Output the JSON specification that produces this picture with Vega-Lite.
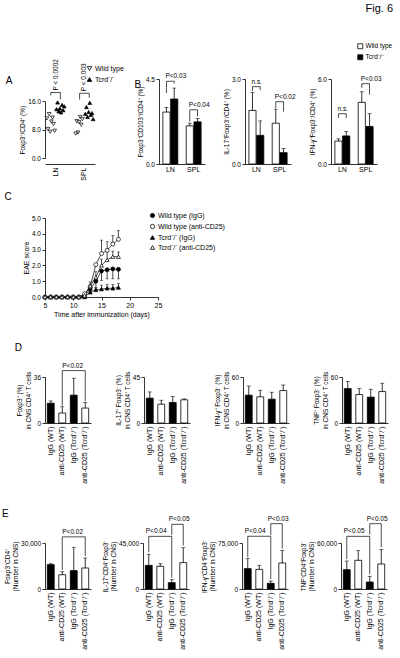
{
"$schema":"https://vega.github.io/schema/vega-lite/v6.json",
"padding":{"left":2,"top":3,"right":0,"bottom":0},
"background":"white",
"title":{"text":"Fig. 6","anchor":"end","fontSize":11,"offset":29},
"config":{
 "font":"Liberation Sans",
 "view":{"stroke":null},
 "axis":{"grid":false,"domainColor":"black","domainWidth":0.8,"tickColor":"black","tickWidth":0.8,"tickSize":3,"labelColor":"black","labelFontSize":6.5,"titleFontSize":6.5,"titleFontWeight":"normal","titleColor":"black","labelPadding":1.5,"titlePadding":2,"labelFlush":false,"labelOverlap":false},
 "title":{"fontWeight":"normal","fontSize":10,"anchor":"start","color":"black"},
 "legend":{"labelFontSize":6.5,"labelColor":"black","symbolStrokeColor":"black","symbolStrokeWidth":0.8,"rowPadding":2,"padding":0,"labelOffset":2,"symbolSize":20}
},
"datasets":{
 "ptA":[
  {"col":"LN WT","geno":"Wild type","rep":"3","v":12.4},{"col":"LN WT","geno":"Wild type","rep":"6","v":11.4},{"col":"LN WT","geno":"Wild type","rep":"1","v":11.2},{"col":"LN WT","geno":"Wild type","rep":"5","v":10.3},{"col":"LN WT","geno":"Wild type","rep":"7","v":9.6},{"col":"LN WT","geno":"Wild type","rep":"2","v":8.2},{"col":"LN WT","geno":"Wild type","rep":"8","v":7.7},{"col":"LN WT","geno":"Wild type","rep":"4","v":7.4},
  {"col":"LN KO","geno":"Tcrd⁻/⁻","rep":"2","v":15.7},{"col":"LN KO","geno":"Tcrd⁻/⁻","rep":"6","v":15.0},{"col":"LN KO","geno":"Tcrd⁻/⁻","rep":"8","v":14.6},{"col":"LN KO","geno":"Tcrd⁻/⁻","rep":"4","v":14.0},{"col":"LN KO","geno":"Tcrd⁻/⁻","rep":"1","v":13.8},{"col":"LN KO","geno":"Tcrd⁻/⁻","rep":"7","v":13.5},{"col":"LN KO","geno":"Tcrd⁻/⁻","rep":"3","v":13.2},{"col":"LN KO","geno":"Tcrd⁻/⁻","rep":"5","v":12.9},
  {"col":"SPL WT","geno":"Wild type","rep":"5","v":11.6},{"col":"SPL WT","geno":"Wild type","rep":"7","v":11.0},{"col":"SPL WT","geno":"Wild type","rep":"2","v":10.4},{"col":"SPL WT","geno":"Wild type","rep":"4","v":10.1},{"col":"SPL WT","geno":"Wild type","rep":"6","v":9.4},{"col":"SPL WT","geno":"Wild type","rep":"3","v":7.2},{"col":"SPL WT","geno":"Wild type","rep":"1","v":6.9},
  {"col":"SPL KO","geno":"Tcrd⁻/⁻","rep":"5","v":15.6},{"col":"SPL KO","geno":"Tcrd⁻/⁻","rep":"2","v":14.4},{"col":"SPL KO","geno":"Tcrd⁻/⁻","rep":"4","v":13.0},{"col":"SPL KO","geno":"Tcrd⁻/⁻","rep":"7","v":12.7},{"col":"SPL KO","geno":"Tcrd⁻/⁻","rep":"1","v":12.5},{"col":"SPL KO","geno":"Tcrd⁻/⁻","rep":"6","v":12.2},{"col":"SPL KO","geno":"Tcrd⁻/⁻","rep":"3","v":11.6},{"col":"SPL KO","geno":"Tcrd⁻/⁻","rep":"8","v":11.0}
 ],
 "brA":[{"a":"LN WT","b":"LN KO","lv":18.5,"la":17.7,"lb":16.6,"label":"P < 0.0002"},{"a":"SPL WT","b":"SPL KO","lv":18.3,"la":16.5,"lb":17.0,"label":"P < 0.003"}],
 "bB1":[{"col":"LN WT","geno":"Wild type","m":2.75,"hi":3.0},{"col":"LN KO","geno":"Tcrd⁻/⁻","m":3.44,"hi":4.02},{"col":"SPL WT","geno":"Wild type","m":2.02,"hi":2.16},{"col":"SPL KO","geno":"Tcrd⁻/⁻","m":2.23,"hi":2.41}],
 "bB2":[{"col":"LN WT","geno":"Wild type","m":1.89,"hi":2.53},{"col":"LN KO","geno":"Tcrd⁻/⁻","m":1.01,"hi":1.52},{"col":"SPL WT","geno":"Wild type","m":1.44,"hi":1.94},{"col":"SPL KO","geno":"Tcrd⁻/⁻","m":0.40,"hi":0.55}],
 "bB3":[{"col":"LN WT","geno":"Wild type","m":1.62,"hi":1.78},{"col":"LN KO","geno":"Tcrd⁻/⁻","m":1.98,"hi":2.3},{"col":"SPL WT","geno":"Wild type","m":4.35,"hi":5.1},{"col":"SPL KO","geno":"Tcrd⁻/⁻","m":2.65,"hi":3.55}],
 "brB1":[{"a":"LN WT","b":"LN KO","lv":4.38,"la":3.76,"lb":4.26,"label":"P<0.03"},{"a":"SPL WT","b":"SPL KO","lv":2.87,"la":2.25,"lb":2.52,"label":"P<0.04"}],
 "brB2":[{"a":"LN WT","b":"LN KO","lv":2.73,"la":2.58,"lb":2.6,"label":"n.s."},{"a":"SPL WT","b":"SPL KO","lv":2.2,"la":1.98,"lb":1.85,"label":"P<0.02"}],
 "brB3":[{"a":"LN WT","b":"LN KO","lv":3.55,"la":3.25,"lb":3.25,"label":"n.s."},{"a":"SPL WT","b":"SPL KO","lv":5.67,"la":5.37,"lb":4.9,"label":"P<0.03"}],
 "eae":[
  {"s":"Wild type (IgG)","day":5,"m":0},{"s":"Wild type (IgG)","day":6,"m":0},{"s":"Wild type (IgG)","day":7,"m":0},{"s":"Wild type (IgG)","day":8,"m":0},{"s":"Wild type (IgG)","day":9,"m":0},{"s":"Wild type (IgG)","day":10,"m":0},{"s":"Wild type (IgG)","day":11,"m":0},{"s":"Wild type (IgG)","day":12,"m":0.05},{"s":"Wild type (IgG)","day":13,"m":0.5,"eb":0.25},{"s":"Wild type (IgG)","day":14,"m":1.0,"eb":0.5},{"s":"Wild type (IgG)","day":15,"m":1.65,"eb":1.05},{"s":"Wild type (IgG)","day":16,"m":1.72,"eb":1.15},{"s":"Wild type (IgG)","day":17,"m":1.78,"eb":1.15},{"s":"Wild type (IgG)","day":18,"m":1.75,"eb":1.15},
  {"s":"Wild type (anti-CD25)","day":5,"m":0},{"s":"Wild type (anti-CD25)","day":6,"m":0},{"s":"Wild type (anti-CD25)","day":7,"m":0},{"s":"Wild type (anti-CD25)","day":8,"m":0},{"s":"Wild type (anti-CD25)","day":9,"m":0},{"s":"Wild type (anti-CD25)","day":10,"m":0},{"s":"Wild type (anti-CD25)","day":11,"m":0},{"s":"Wild type (anti-CD25)","day":12,"m":0.2},{"s":"Wild type (anti-CD25)","day":13,"m":0.65,"eb":0.95},{"s":"Wild type (anti-CD25)","day":14,"m":2.05},{"s":"Wild type (anti-CD25)","day":15,"m":2.75,"eb":3.6},{"s":"Wild type (anti-CD25)","day":16,"m":2.95,"eb":3.5},{"s":"Wild type (anti-CD25)","day":17,"m":3.35,"eb":3.9},{"s":"Wild type (anti-CD25)","day":18,"m":3.65,"eb":4.2},
  {"s":"Tcrd⁻/⁻ (IgG)","day":5,"m":0},{"s":"Tcrd⁻/⁻ (IgG)","day":6,"m":0},{"s":"Tcrd⁻/⁻ (IgG)","day":7,"m":0},{"s":"Tcrd⁻/⁻ (IgG)","day":8,"m":0},{"s":"Tcrd⁻/⁻ (IgG)","day":9,"m":0},{"s":"Tcrd⁻/⁻ (IgG)","day":10,"m":0},{"s":"Tcrd⁻/⁻ (IgG)","day":11,"m":0},{"s":"Tcrd⁻/⁻ (IgG)","day":12,"m":0},{"s":"Tcrd⁻/⁻ (IgG)","day":13,"m":0.3},{"s":"Tcrd⁻/⁻ (IgG)","day":14,"m":0.45,"eb":0.6},{"s":"Tcrd⁻/⁻ (IgG)","day":15,"m":0.5,"eb":0.75},{"s":"Tcrd⁻/⁻ (IgG)","day":16,"m":0.55,"eb":0.78},{"s":"Tcrd⁻/⁻ (IgG)","day":17,"m":0.55,"eb":0.8},{"s":"Tcrd⁻/⁻ (IgG)","day":18,"m":0.6,"eb":0.85},
  {"s":"Tcrd⁻/⁻ (anti-CD25)","day":5,"m":0},{"s":"Tcrd⁻/⁻ (anti-CD25)","day":6,"m":0},{"s":"Tcrd⁻/⁻ (anti-CD25)","day":7,"m":0},{"s":"Tcrd⁻/⁻ (anti-CD25)","day":8,"m":0},{"s":"Tcrd⁻/⁻ (anti-CD25)","day":9,"m":0},{"s":"Tcrd⁻/⁻ (anti-CD25)","day":10,"m":0},{"s":"Tcrd⁻/⁻ (anti-CD25)","day":11,"m":0},{"s":"Tcrd⁻/⁻ (anti-CD25)","day":12,"m":0.1},{"s":"Tcrd⁻/⁻ (anti-CD25)","day":13,"m":0.7},{"s":"Tcrd⁻/⁻ (anti-CD25)","day":14,"m":1.25,"eb":1.6},{"s":"Tcrd⁻/⁻ (anti-CD25)","day":15,"m":2.0,"eb":2.4},{"s":"Tcrd⁻/⁻ (anti-CD25)","day":16,"m":2.35,"eb":2.85},{"s":"Tcrd⁻/⁻ (anti-CD25)","day":17,"m":2.55,"eb":2.9},{"s":"Tcrd⁻/⁻ (anti-CD25)","day":18,"m":2.55,"eb":2.85}
 ],
 "bD1":[{"grp":"IgG (WT)","kind":"IgG","m":15.5,"hi":17.3},{"grp":"anti-CD25 (WT)","kind":"anti","m":7.8,"hi":12.7},{"grp":"IgG (Tcrd⁻/⁻)","kind":"IgG","m":21.8,"hi":35},{"grp":"anti-CD25 (Tcrd⁻/⁻)","kind":"anti","m":11.7,"hi":16.1}],
 "bD2":[{"grp":"IgG (WT)","kind":"IgG","m":24.3,"hi":30.4},{"grp":"anti-CD25 (WT)","kind":"anti","m":18.4,"hi":22.3},{"grp":"IgG (Tcrd⁻/⁻)","kind":"IgG","m":20.1,"hi":25.9},{"grp":"anti-CD25 (Tcrd⁻/⁻)","kind":"anti","m":22.7,"hi":23.6}],
 "bD3":[{"grp":"IgG (WT)","kind":"IgG","m":36.3,"hi":48.3},{"grp":"anti-CD25 (WT)","kind":"anti","m":34.1,"hi":42.7},{"grp":"IgG (Tcrd⁻/⁻)","kind":"IgG","m":31.1,"hi":40.1},{"grp":"anti-CD25 (Tcrd⁻/⁻)","kind":"anti","m":42.3,"hi":49.6}],
 "bD4":[{"grp":"IgG (WT)","kind":"IgG","m":44.9,"hi":54},{"grp":"anti-CD25 (WT)","kind":"anti","m":37.1,"hi":44.9},{"grp":"IgG (Tcrd⁻/⁻)","kind":"IgG","m":33.7,"hi":44},{"grp":"anti-CD25 (Tcrd⁻/⁻)","kind":"anti","m":41,"hi":51.8}],
 "bE1":[{"grp":"IgG (WT)","kind":"IgG","m":15900,"hi":16500},{"grp":"anti-CD25 (WT)","kind":"anti","m":9300,"hi":11300},{"grp":"IgG (Tcrd⁻/⁻)","kind":"IgG","m":12000,"hi":27200},{"grp":"anti-CD25 (Tcrd⁻/⁻)","kind":"anti","m":13700,"hi":20200}],
 "bE2":[{"grp":"IgG (WT)","kind":"IgG","m":23100,"hi":33900},{"grp":"anti-CD25 (WT)","kind":"anti","m":22200,"hi":24800},{"grp":"IgG (Tcrd⁻/⁻)","kind":"IgG","m":6200,"hi":9100},{"grp":"anti-CD25 (Tcrd⁻/⁻)","kind":"anti","m":25800,"hi":40400}],
 "bE3":[{"grp":"IgG (WT)","kind":"IgG","m":33200,"hi":49500},{"grp":"anti-CD25 (WT)","kind":"anti","m":32000,"hi":38600},{"grp":"IgG (Tcrd⁻/⁻)","kind":"IgG","m":9200,"hi":13000},{"grp":"anti-CD25 (Tcrd⁻/⁻)","kind":"anti","m":42400,"hi":63000}],
 "bE4":[{"grp":"IgG (WT)","kind":"IgG","m":25200,"hi":36500},{"grp":"anti-CD25 (WT)","kind":"anti","m":37400,"hi":50000},{"grp":"IgG (Tcrd⁻/⁻)","kind":"IgG","m":9100,"hi":16500},{"grp":"anti-CD25 (Tcrd⁻/⁻)","kind":"anti","m":32600,"hi":51700}],
 "brD1":[{"a":"anti-CD25 (WT)","b":"anti-CD25 (Tcrd⁻/⁻)","lv":41,"la":13.5,"lb":17,"label":"P<0.02"}],
 "brE1":[{"a":"anti-CD25 (WT)","b":"anti-CD25 (Tcrd⁻/⁻)","lv":34000,"la":12500,"lb":21500,"label":"P<0.02"}],
 "brE2":[{"a":"IgG (WT)","b":"IgG (Tcrd⁻/⁻)","lv":51500,"la":36000,"lb":11000,"label":"P<0.04"},{"a":"IgG (Tcrd⁻/⁻)","b":"anti-CD25 (Tcrd⁻/⁻)","lv":63300,"la":53000,"lb":42500,"label":"P<0.05"}],
 "brE3":[{"a":"IgG (WT)","b":"IgG (Tcrd⁻/⁻)","lv":86000,"la":52000,"lb":16000,"label":"P<0.04"},{"a":"IgG (Tcrd⁻/⁻)","b":"anti-CD25 (Tcrd⁻/⁻)","lv":106500,"la":88000,"lb":66000,"label":"P<0.03"}],
 "brE4":[{"a":"IgG (WT)","b":"IgG (Tcrd⁻/⁻)","lv":68700,"la":39000,"lb":19000,"label":"P<0.05"},{"a":"IgG (Tcrd⁻/⁻)","b":"anti-CD25 (Tcrd⁻/⁻)","lv":85200,"la":71000,"lb":54500,"label":"P<0.05"}]
},
"spacing":24,
"resolve":{"scale":{"x":"independent","y":"independent","fill":"independent","shape":"independent","stroke":"independent"},"legend":{"fill":"independent","shape":"independent","stroke":"independent"}},
"vconcat":[
{"vconcat":[
 {"hconcat":[
  {"width":50,"height":85,
   "title":{"text":"A","offset":-27,"dx":-14},
   "layer":[
    {"data":{"name":"ptA"},"mark":{"type":"point","filled":false,"strokeWidth":0.7,"size":14,"opacity":1},
     "encoding":{
      "x":{"field":"col","type":"nominal","scale":{"type":"band","domain":["LN WT","LN KO","gap","SPL WT","SPL KO"],"paddingInner":0,"paddingOuter":0.1},"axis":{"title":null,"ticks":false,"labelAngle":-90,"labelAlign":"right","labelBaseline":"middle","labelFontSize":7,"labelPadding":3,"labelOffset":4.8,"labelExpr":"datum.value=='LN WT'?'LN':datum.value=='SPL WT'?'SPL':''"}},
      "xOffset":{"field":"rep","type":"nominal","scale":{"type":"band","paddingInner":0,"paddingOuter":0.3}},
      "y":{"field":"v","type":"quantitative","scale":{"domain":[0,16],"range":[79,22.4],"nice":false},"axis":{"values":[0,4,8,12,16],"format":".1f","title":"Foxp3⁺/CD4⁺ (%)"}},
      "shape":{"field":"geno","type":"nominal","scale":{"domain":["Wild type","Tcrd⁻/⁻"],"range":["triangle-down","triangle-up"]},"legend":{"orient":"none","legendX":41,"legendY":-14,"title":null,"labelFontSize":7}},
      "fill":{"field":"geno","type":"nominal","scale":{"domain":["Wild type","Tcrd⁻/⁻"],"range":["white","black"]},"legend":{"orient":"none","legendX":41,"legendY":-14,"title":null,"labelFontSize":7}},
      "stroke":{"field":"geno","type":"nominal","scale":{"domain":["Wild type","Tcrd⁻/⁻"],"range":["black","black"]},"legend":{"orient":"none","legendX":41,"legendY":-14,"title":null,"labelFontSize":7}}
     }},
    {"data":{"name":"brA"},"mark":{"type":"rule","color":"black","strokeWidth":0.7},"encoding":{"x":{"field":"a","type":"nominal","scale":{"type":"band","domain":["LN WT","LN KO","gap","SPL WT","SPL KO"],"paddingInner":0,"paddingOuter":0.1},"bandPosition":0.5},"x2":{"field":"b"},"y":{"field":"lv","type":"quantitative","scale":{"domain":[0,16],"range":[79,22.4],"nice":false}}}},
    {"data":{"name":"brA"},"mark":{"type":"rule","color":"black","strokeWidth":0.7},"encoding":{"x":{"field":"a","type":"nominal","scale":{"type":"band","domain":["LN WT","LN KO","gap","SPL WT","SPL KO"],"paddingInner":0,"paddingOuter":0.1},"bandPosition":0.5},"y":{"field":"la","type":"quantitative","scale":{"domain":[0,16],"range":[79,22.4],"nice":false}},"y2":{"field":"lv"}}},
    {"data":{"name":"brA"},"mark":{"type":"rule","color":"black","strokeWidth":0.7},"encoding":{"x":{"field":"b","type":"nominal","scale":{"type":"band","domain":["LN WT","LN KO","gap","SPL WT","SPL KO"],"paddingInner":0,"paddingOuter":0.1},"bandPosition":0.5},"y":{"field":"lb","type":"quantitative","scale":{"domain":[0,16],"range":[79,22.4],"nice":false}},"y2":{"field":"lv"}}},
    {"data":{"name":"brA"},"mark":{"type":"text","angle":270,"align":"left","baseline":"middle","fontSize":6.5,"dx":2,"dy":4.8},"encoding":{"x":{"field":"a","type":"nominal","scale":{"type":"band","domain":["LN WT","LN KO","gap","SPL WT","SPL KO"],"paddingInner":0,"paddingOuter":0.1},"bandPosition":0.5},"y":{"field":"lv","type":"quantitative","scale":{"domain":[0,16],"range":[79,22.4],"nice":false}},"text":{"field":"label"}}}
   ]},
  {"hconcat":[
  {"width":46,"height":85,
   "title":{"text":"B","offset":-17,"dx":-3},
   "layer":[
    {"data":{"name":"bB1"},"mark":{"type":"bar","stroke":"black","strokeWidth":0.8},"encoding":{"x":{"field":"col","type":"nominal","scale":{"type":"band","domain":["LN WT","LN KO","gap","SPL WT","SPL KO"],"paddingInner":0.08,"paddingOuter":0.5},"axis":{"title":null,"ticks":false,"labelAngle":0,"labelAlign":"center","labelFontSize":7,"labelOffset":3.9,"labelExpr":"datum.value=='LN WT'?'LN':datum.value=='SPL WT'?'SPL':''"}},"y":{"field":"m","type":"quantitative","scale":{"domain":[0,4.5],"nice":false},"axis":{"values":[0,1.5,3,4.5],"format":".1f","title":"Foxp3⁺CD103⁺/CD4⁺ (%)"}},"fill":{"field":"geno","type":"nominal","scale":{"domain":["Wild type","Tcrd⁻/⁻"],"range":["white","black"]},"legend":null}}},
    {"data":{"name":"bB1"},"mark":{"type":"rule","color":"black","strokeWidth":0.8},"encoding":{"x":{"field":"col","type":"nominal","scale":{"type":"band","domain":["LN WT","LN KO","gap","SPL WT","SPL KO"],"paddingInner":0.08,"paddingOuter":0.5},"bandPosition":0.5},"y":{"field":"m","type":"quantitative","scale":{"domain":[0,4.5],"nice":false}},"y2":{"field":"hi"}}},
    {"data":{"name":"bB1"},"mark":{"type":"tick","color":"black","thickness":0.8,"size":4},"encoding":{"x":{"field":"col","type":"nominal","scale":{"type":"band","domain":["LN WT","LN KO","gap","SPL WT","SPL KO"],"paddingInner":0.08,"paddingOuter":0.5},"bandPosition":0.5},"y":{"field":"hi","type":"quantitative","scale":{"domain":[0,4.5],"nice":false}}}},
    {"data":{"name":"brB1"},"mark":{"type":"rule","color":"black","strokeWidth":0.7},"encoding":{"x":{"field":"a","type":"nominal","scale":{"type":"band","domain":["LN WT","LN KO","gap","SPL WT","SPL KO"],"paddingInner":0.08,"paddingOuter":0.5},"bandPosition":0.5},"x2":{"field":"b"},"y":{"field":"lv","type":"quantitative","scale":{"domain":[0,4.5],"nice":false}}}},
    {"data":{"name":"brB1"},"mark":{"type":"rule","color":"black","strokeWidth":0.7},"encoding":{"x":{"field":"a","type":"nominal","scale":{"type":"band","domain":["LN WT","LN KO","gap","SPL WT","SPL KO"],"paddingInner":0.08,"paddingOuter":0.5},"bandPosition":0.5},"y":{"field":"la","type":"quantitative","scale":{"domain":[0,4.5],"nice":false}},"y2":{"field":"lv"}}},
    {"data":{"name":"brB1"},"mark":{"type":"rule","color":"black","strokeWidth":0.7},"encoding":{"x":{"field":"b","type":"nominal","scale":{"type":"band","domain":["LN WT","LN KO","gap","SPL WT","SPL KO"],"paddingInner":0.08,"paddingOuter":0.5},"bandPosition":0.5},"y":{"field":"lb","type":"quantitative","scale":{"domain":[0,4.5],"nice":false}},"y2":{"field":"lv"}}},
    {"data":{"name":"brB1"},"mark":{"type":"text","fontSize":6.5,"align":"left","baseline":"bottom","dx":-1,"dy":-2},"encoding":{"x":{"field":"a","type":"nominal","scale":{"type":"band","domain":["LN WT","LN KO","gap","SPL WT","SPL KO"],"paddingInner":0.08,"paddingOuter":0.5},"bandPosition":0.5},"y":{"field":"lv","type":"quantitative","scale":{"domain":[0,4.5],"nice":false}},"text":{"field":"label"}}}
   ]},
  {"width":46,"height":85,
   "layer":[
    {"data":{"name":"bB2"},"mark":{"type":"bar","stroke":"black","strokeWidth":0.8},"encoding":{"x":{"field":"col","type":"nominal","scale":{"type":"band","domain":["LN WT","LN KO","gap","SPL WT","SPL KO"],"paddingInner":0.08,"paddingOuter":0.5},"axis":{"title":null,"ticks":false,"labelAngle":0,"labelAlign":"center","labelFontSize":7,"labelOffset":3.9,"labelExpr":"datum.value=='LN WT'?'LN':datum.value=='SPL WT'?'SPL':''"}},"y":{"field":"m","type":"quantitative","scale":{"domain":[0,3],"nice":false},"axis":{"values":[0,1,2,3],"format":".1f","title":"IL-17⁺Foxp3⁻/CD4⁺ (%)"}},"fill":{"field":"geno","type":"nominal","scale":{"domain":["Wild type","Tcrd⁻/⁻"],"range":["white","black"]},"legend":null}}},
    {"data":{"name":"bB2"},"mark":{"type":"rule","color":"black","strokeWidth":0.8},"encoding":{"x":{"field":"col","type":"nominal","scale":{"type":"band","domain":["LN WT","LN KO","gap","SPL WT","SPL KO"],"paddingInner":0.08,"paddingOuter":0.5},"bandPosition":0.5},"y":{"field":"m","type":"quantitative","scale":{"domain":[0,3],"nice":false}},"y2":{"field":"hi"}}},
    {"data":{"name":"bB2"},"mark":{"type":"tick","color":"black","thickness":0.8,"size":4},"encoding":{"x":{"field":"col","type":"nominal","scale":{"type":"band","domain":["LN WT","LN KO","gap","SPL WT","SPL KO"],"paddingInner":0.08,"paddingOuter":0.5},"bandPosition":0.5},"y":{"field":"hi","type":"quantitative","scale":{"domain":[0,3],"nice":false}}}},
    {"data":{"name":"brB2"},"mark":{"type":"rule","color":"black","strokeWidth":0.7},"encoding":{"x":{"field":"a","type":"nominal","scale":{"type":"band","domain":["LN WT","LN KO","gap","SPL WT","SPL KO"],"paddingInner":0.08,"paddingOuter":0.5},"bandPosition":0.5},"x2":{"field":"b"},"y":{"field":"lv","type":"quantitative","scale":{"domain":[0,3],"nice":false}}}},
    {"data":{"name":"brB2"},"mark":{"type":"rule","color":"black","strokeWidth":0.7},"encoding":{"x":{"field":"a","type":"nominal","scale":{"type":"band","domain":["LN WT","LN KO","gap","SPL WT","SPL KO"],"paddingInner":0.08,"paddingOuter":0.5},"bandPosition":0.5},"y":{"field":"la","type":"quantitative","scale":{"domain":[0,3],"nice":false}},"y2":{"field":"lv"}}},
    {"data":{"name":"brB2"},"mark":{"type":"rule","color":"black","strokeWidth":0.7},"encoding":{"x":{"field":"b","type":"nominal","scale":{"type":"band","domain":["LN WT","LN KO","gap","SPL WT","SPL KO"],"paddingInner":0.08,"paddingOuter":0.5},"bandPosition":0.5},"y":{"field":"lb","type":"quantitative","scale":{"domain":[0,3],"nice":false}},"y2":{"field":"lv"}}},
    {"data":{"name":"brB2"},"mark":{"type":"text","fontSize":6.5,"align":"left","baseline":"bottom","dx":-1,"dy":-2},"encoding":{"x":{"field":"a","type":"nominal","scale":{"type":"band","domain":["LN WT","LN KO","gap","SPL WT","SPL KO"],"paddingInner":0.08,"paddingOuter":0.5},"bandPosition":0.5},"y":{"field":"lv","type":"quantitative","scale":{"domain":[0,3],"nice":false}},"text":{"field":"label"}}}
   ]},
  {"width":46,"height":85,
   "layer":[
    {"data":{"name":"bB3"},"mark":{"type":"bar","stroke":"black","strokeWidth":0.8},"encoding":{"x":{"field":"col","type":"nominal","scale":{"type":"band","domain":["LN WT","LN KO","gap","SPL WT","SPL KO"],"paddingInner":0.08,"paddingOuter":0.5},"axis":{"title":null,"ticks":false,"labelAngle":0,"labelAlign":"center","labelFontSize":7,"labelOffset":3.9,"labelExpr":"datum.value=='LN WT'?'LN':datum.value=='SPL WT'?'SPL':''"}},"y":{"field":"m","type":"quantitative","scale":{"domain":[0,6],"nice":false},"axis":{"values":[0,2,4,6],"format":".1f","title":"IFN-γ⁺Foxp3⁻/CD4⁺ (%)"}},"fill":{"field":"geno","type":"nominal","scale":{"domain":["Wild type","Tcrd⁻/⁻"],"range":["white","black"]},"legend":{"orient":"none","legendX":26,"legendY":-36,"title":null,"symbolType":"square","symbolSize":25,"labelFontSize":6.5}}}},
    {"data":{"name":"bB3"},"mark":{"type":"rule","color":"black","strokeWidth":0.8},"encoding":{"x":{"field":"col","type":"nominal","scale":{"type":"band","domain":["LN WT","LN KO","gap","SPL WT","SPL KO"],"paddingInner":0.08,"paddingOuter":0.5},"bandPosition":0.5},"y":{"field":"m","type":"quantitative","scale":{"domain":[0,6],"nice":false}},"y2":{"field":"hi"}}},
    {"data":{"name":"bB3"},"mark":{"type":"tick","color":"black","thickness":0.8,"size":4},"encoding":{"x":{"field":"col","type":"nominal","scale":{"type":"band","domain":["LN WT","LN KO","gap","SPL WT","SPL KO"],"paddingInner":0.08,"paddingOuter":0.5},"bandPosition":0.5},"y":{"field":"hi","type":"quantitative","scale":{"domain":[0,6],"nice":false}}}},
    {"data":{"name":"brB3"},"mark":{"type":"rule","color":"black","strokeWidth":0.7},"encoding":{"x":{"field":"a","type":"nominal","scale":{"type":"band","domain":["LN WT","LN KO","gap","SPL WT","SPL KO"],"paddingInner":0.08,"paddingOuter":0.5},"bandPosition":0.5},"x2":{"field":"b"},"y":{"field":"lv","type":"quantitative","scale":{"domain":[0,6],"nice":false}}}},
    {"data":{"name":"brB3"},"mark":{"type":"rule","color":"black","strokeWidth":0.7},"encoding":{"x":{"field":"a","type":"nominal","scale":{"type":"band","domain":["LN WT","LN KO","gap","SPL WT","SPL KO"],"paddingInner":0.08,"paddingOuter":0.5},"bandPosition":0.5},"y":{"field":"la","type":"quantitative","scale":{"domain":[0,6],"nice":false}},"y2":{"field":"lv"}}},
    {"data":{"name":"brB3"},"mark":{"type":"rule","color":"black","strokeWidth":0.7},"encoding":{"x":{"field":"b","type":"nominal","scale":{"type":"band","domain":["LN WT","LN KO","gap","SPL WT","SPL KO"],"paddingInner":0.08,"paddingOuter":0.5},"bandPosition":0.5},"y":{"field":"lb","type":"quantitative","scale":{"domain":[0,6],"nice":false}},"y2":{"field":"lv"}}},
    {"data":{"name":"brB3"},"mark":{"type":"text","fontSize":6.5,"align":"left","baseline":"bottom","dx":-1,"dy":-2},"encoding":{"x":{"field":"a","type":"nominal","scale":{"type":"band","domain":["LN WT","LN KO","gap","SPL WT","SPL KO"],"paddingInner":0.08,"paddingOuter":0.5},"bandPosition":0.5},"y":{"field":"lv","type":"quantitative","scale":{"domain":[0,6],"nice":false}},"text":{"field":"label"}}}
   ]}
  ],"spacing":13,
  "resolve":{"scale":{"x":"independent","y":"independent","fill":"independent"},"legend":{"fill":"independent"}}}
 ],"spacing":10,
 "resolve":{"scale":{"x":"independent","y":"independent","fill":"independent","shape":"independent","stroke":"independent"},"legend":{"fill":"independent","shape":"independent","stroke":"independent"}}},
 {"width":113,"height":79,
  "title":{"text":"C","offset":10,"dx":-18},
  "data":{"name":"eae"},
  "layer":[
   {"transform":[{"filter":"isValid(datum.eb)"}],"mark":{"type":"rule","color":"black","strokeWidth":0.7},"encoding":{"x":{"field":"day","type":"quantitative","scale":{"domain":[5,25],"nice":false},"axis":{"values":[5,10,15,20,25],"labelOverlap":false,"title":"Time after immunization (days)","titleFontSize":7,"labelFontSize":7}},"y":{"field":"m","type":"quantitative","scale":{"domain":[0,5],"nice":false},"axis":{"values":[0,1,2,3,4,5],"format":".1f","labelOverlap":false,"title":"EAE score","titleFontSize":7}},"y2":{"field":"eb"}}},
   {"transform":[{"filter":"isValid(datum.eb)"}],"mark":{"type":"tick","color":"black","thickness":0.7,"size":3,"orient":"horizontal"},"encoding":{"x":{"field":"day","type":"quantitative","scale":{"domain":[5,25],"nice":false},"axis":{"values":[5,10,15,20,25],"labelOverlap":false,"title":"Time after immunization (days)","titleFontSize":7,"labelFontSize":7}},"y":{"field":"eb","type":"quantitative","scale":{"domain":[0,5],"nice":false},"axis":{"values":[0,1,2,3,4,5],"format":".1f","labelOverlap":false,"title":"EAE score","titleFontSize":7}}}},
   {"mark":{"type":"line","color":"black","strokeWidth":0.7},"encoding":{"x":{"field":"day","type":"quantitative","scale":{"domain":[5,25],"nice":false},"axis":{"values":[5,10,15,20,25],"labelOverlap":false,"title":"Time after immunization (days)","titleFontSize":7,"labelFontSize":7}},"y":{"field":"m","type":"quantitative","scale":{"domain":[0,5],"nice":false},"axis":{"values":[0,1,2,3,4,5],"format":".1f","labelOverlap":false,"title":"EAE score","titleFontSize":7}},"detail":{"field":"s","type":"nominal"}}},
   {"mark":{"type":"point","filled":false,"strokeWidth":0.7,"size":16,"opacity":1},"encoding":{
     "x":{"field":"day","type":"quantitative","scale":{"domain":[5,25],"nice":false},"axis":{"values":[5,10,15,20,25],"labelOverlap":false,"title":"Time after immunization (days)","titleFontSize":7,"labelFontSize":7}},
     "y":{"field":"m","type":"quantitative","scale":{"domain":[0,5],"nice":false},"axis":{"values":[0,1,2,3,4,5],"format":".1f","labelOverlap":false,"title":"EAE score","titleFontSize":7}},
     "shape":{"field":"s","type":"nominal","scale":{"domain":["Wild type (IgG)","Wild type (anti-CD25)","Tcrd⁻/⁻ (IgG)","Tcrd⁻/⁻ (anti-CD25)"],"range":["circle","circle","triangle-up","triangle-up"]},"legend":{"orient":"none","legendX":104,"legendY":-6,"title":null,"labelFontSize":7,"symbolSize":18}},
     "fill":{"field":"s","type":"nominal","scale":{"domain":["Wild type (IgG)","Wild type (anti-CD25)","Tcrd⁻/⁻ (IgG)","Tcrd⁻/⁻ (anti-CD25)"],"range":["black","white","black","white"]},"legend":{"orient":"none","legendX":104,"legendY":-6,"title":null,"labelFontSize":7,"symbolSize":18}},
     "stroke":{"field":"s","type":"nominal","scale":{"domain":["Wild type (IgG)","Wild type (anti-CD25)","Tcrd⁻/⁻ (IgG)","Tcrd⁻/⁻ (anti-CD25)"],"range":["black","black","black","black"]},"legend":{"orient":"none","legendX":104,"legendY":-6,"title":null,"labelFontSize":7,"symbolSize":18}}
   }}
  ]}
],"spacing":11,
"resolve":{"scale":{"x":"independent","y":"independent","fill":"independent","shape":"independent","stroke":"independent"},"legend":{"fill":"independent","shape":"independent","stroke":"independent"}}},
 {"hconcat":[
  {"width":46,"height":46,"title":{"text":"D","offset":10,"dx":-2},
   "layer":[
    {"data":{"name":"bD1"},"mark":{"type":"bar","stroke":"black","strokeWidth":0.8},"encoding":{"x":{"field":"grp","type":"nominal","scale":{"type":"band","domain":["IgG (WT)","anti-CD25 (WT)","IgG (Tcrd⁻/⁻)","anti-CD25 (Tcrd⁻/⁻)"],"paddingInner":0.4,"paddingOuter":0.2},"axis":{"title":null,"ticks":false,"labelAngle":-90,"labelAlign":"right","labelBaseline":"middle","labelPadding":3,"labelFontSize":7}},"y":{"field":"m","type":"quantitative","scale":{"domain":[0,36],"nice":false},"axis":{"values":[0,12,24,36],"title":["Foxp3⁺ (%)","in CNS CD4⁺ T cells"]}},"fill":{"field":"kind","type":"nominal","scale":{"domain":["IgG","anti"],"range":["black","white"]},"legend":null}}},
    {"data":{"name":"bD1"},"mark":{"type":"rule","color":"black","strokeWidth":0.8},"encoding":{"x":{"field":"grp","type":"nominal","scale":{"type":"band","domain":["IgG (WT)","anti-CD25 (WT)","IgG (Tcrd⁻/⁻)","anti-CD25 (Tcrd⁻/⁻)"],"paddingInner":0.4,"paddingOuter":0.2},"bandPosition":0.5},"y":{"field":"m","type":"quantitative","scale":{"domain":[0,36],"nice":false}},"y2":{"field":"hi"}}},
    {"data":{"name":"bD1"},"mark":{"type":"tick","color":"black","thickness":0.8,"size":4},"encoding":{"x":{"field":"grp","type":"nominal","scale":{"type":"band","domain":["IgG (WT)","anti-CD25 (WT)","IgG (Tcrd⁻/⁻)","anti-CD25 (Tcrd⁻/⁻)"],"paddingInner":0.4,"paddingOuter":0.2},"bandPosition":0.5},"y":{"field":"hi","type":"quantitative","scale":{"domain":[0,36],"nice":false}}}},
    {"data":{"name":"brD1"},"mark":{"type":"rule","color":"black","strokeWidth":0.7},"encoding":{"x":{"field":"a","type":"nominal","scale":{"type":"band","domain":["IgG (WT)","anti-CD25 (WT)","IgG (Tcrd⁻/⁻)","anti-CD25 (Tcrd⁻/⁻)"],"paddingInner":0.4,"paddingOuter":0.2},"bandPosition":0.5},"x2":{"field":"b"},"y":{"field":"lv","type":"quantitative","scale":{"domain":[0,36],"nice":false}}}},
    {"data":{"name":"brD1"},"mark":{"type":"rule","color":"black","strokeWidth":0.7},"encoding":{"x":{"field":"a","type":"nominal","scale":{"type":"band","domain":["IgG (WT)","anti-CD25 (WT)","IgG (Tcrd⁻/⁻)","anti-CD25 (Tcrd⁻/⁻)"],"paddingInner":0.4,"paddingOuter":0.2},"bandPosition":0.5},"y":{"field":"la","type":"quantitative","scale":{"domain":[0,36],"nice":false}},"y2":{"field":"lv"}}},
    {"data":{"name":"brD1"},"mark":{"type":"rule","color":"black","strokeWidth":0.7},"encoding":{"x":{"field":"b","type":"nominal","scale":{"type":"band","domain":["IgG (WT)","anti-CD25 (WT)","IgG (Tcrd⁻/⁻)","anti-CD25 (Tcrd⁻/⁻)"],"paddingInner":0.4,"paddingOuter":0.2},"bandPosition":0.5},"y":{"field":"lb","type":"quantitative","scale":{"domain":[0,36],"nice":false}},"y2":{"field":"lv"}}},
    {"data":{"name":"brD1"},"mark":{"type":"text","fontSize":6.5,"align":"left","baseline":"bottom","dx":0,"dy":-2},"encoding":{"x":{"field":"a","type":"nominal","scale":{"type":"band","domain":["IgG (WT)","anti-CD25 (WT)","IgG (Tcrd⁻/⁻)","anti-CD25 (Tcrd⁻/⁻)"],"paddingInner":0.4,"paddingOuter":0.2},"bandPosition":0.5},"y":{"field":"lv","type":"quantitative","scale":{"domain":[0,36],"nice":false}},"text":{"field":"label"}}}
   ]},
  {"width":46,"height":46,
   "layer":[
    {"data":{"name":"bD2"},"mark":{"type":"bar","stroke":"black","strokeWidth":0.8},"encoding":{"x":{"field":"grp","type":"nominal","scale":{"type":"band","domain":["IgG (WT)","anti-CD25 (WT)","IgG (Tcrd⁻/⁻)","anti-CD25 (Tcrd⁻/⁻)"],"paddingInner":0.4,"paddingOuter":0.2},"axis":{"title":null,"ticks":false,"labelAngle":-90,"labelAlign":"right","labelBaseline":"middle","labelPadding":3,"labelFontSize":7}},"y":{"field":"m","type":"quantitative","scale":{"domain":[0,45],"nice":false},"axis":{"values":[0,15,30,45],"title":["IL-17⁺ Foxp3⁻ (%)","in CNS CD4⁺ T cells"]}},"fill":{"field":"kind","type":"nominal","scale":{"domain":["IgG","anti"],"range":["black","white"]},"legend":null}}},
    {"data":{"name":"bD2"},"mark":{"type":"rule","color":"black","strokeWidth":0.8},"encoding":{"x":{"field":"grp","type":"nominal","scale":{"type":"band","domain":["IgG (WT)","anti-CD25 (WT)","IgG (Tcrd⁻/⁻)","anti-CD25 (Tcrd⁻/⁻)"],"paddingInner":0.4,"paddingOuter":0.2},"bandPosition":0.5},"y":{"field":"m","type":"quantitative","scale":{"domain":[0,45],"nice":false}},"y2":{"field":"hi"}}},
    {"data":{"name":"bD2"},"mark":{"type":"tick","color":"black","thickness":0.8,"size":4},"encoding":{"x":{"field":"grp","type":"nominal","scale":{"type":"band","domain":["IgG (WT)","anti-CD25 (WT)","IgG (Tcrd⁻/⁻)","anti-CD25 (Tcrd⁻/⁻)"],"paddingInner":0.4,"paddingOuter":0.2},"bandPosition":0.5},"y":{"field":"hi","type":"quantitative","scale":{"domain":[0,45],"nice":false}}}}
   ]},
  {"width":46,"height":46,
   "layer":[
    {"data":{"name":"bD3"},"mark":{"type":"bar","stroke":"black","strokeWidth":0.8},"encoding":{"x":{"field":"grp","type":"nominal","scale":{"type":"band","domain":["IgG (WT)","anti-CD25 (WT)","IgG (Tcrd⁻/⁻)","anti-CD25 (Tcrd⁻/⁻)"],"paddingInner":0.4,"paddingOuter":0.2},"axis":{"title":null,"ticks":false,"labelAngle":-90,"labelAlign":"right","labelBaseline":"middle","labelPadding":3,"labelFontSize":7}},"y":{"field":"m","type":"quantitative","scale":{"domain":[0,60],"nice":false},"axis":{"values":[0,20,40,60],"title":["IFN-γ⁺ Foxp3⁻ (%)","in CNS CD4⁺ T cells"]}},"fill":{"field":"kind","type":"nominal","scale":{"domain":["IgG","anti"],"range":["black","white"]},"legend":null}}},
    {"data":{"name":"bD3"},"mark":{"type":"rule","color":"black","strokeWidth":0.8},"encoding":{"x":{"field":"grp","type":"nominal","scale":{"type":"band","domain":["IgG (WT)","anti-CD25 (WT)","IgG (Tcrd⁻/⁻)","anti-CD25 (Tcrd⁻/⁻)"],"paddingInner":0.4,"paddingOuter":0.2},"bandPosition":0.5},"y":{"field":"m","type":"quantitative","scale":{"domain":[0,60],"nice":false}},"y2":{"field":"hi"}}},
    {"data":{"name":"bD3"},"mark":{"type":"tick","color":"black","thickness":0.8,"size":4},"encoding":{"x":{"field":"grp","type":"nominal","scale":{"type":"band","domain":["IgG (WT)","anti-CD25 (WT)","IgG (Tcrd⁻/⁻)","anti-CD25 (Tcrd⁻/⁻)"],"paddingInner":0.4,"paddingOuter":0.2},"bandPosition":0.5},"y":{"field":"hi","type":"quantitative","scale":{"domain":[0,60],"nice":false}}}}
   ]},
  {"width":46,"height":46,
   "layer":[
    {"data":{"name":"bD4"},"mark":{"type":"bar","stroke":"black","strokeWidth":0.8},"encoding":{"x":{"field":"grp","type":"nominal","scale":{"type":"band","domain":["IgG (WT)","anti-CD25 (WT)","IgG (Tcrd⁻/⁻)","anti-CD25 (Tcrd⁻/⁻)"],"paddingInner":0.4,"paddingOuter":0.2},"axis":{"title":null,"ticks":false,"labelAngle":-90,"labelAlign":"right","labelBaseline":"middle","labelPadding":3,"labelFontSize":7}},"y":{"field":"m","type":"quantitative","scale":{"domain":[0,60],"nice":false},"axis":{"values":[0,20,40,60],"title":["TNF⁺ Foxp3⁻ (%)","in CNS CD4⁺ T cells"]}},"fill":{"field":"kind","type":"nominal","scale":{"domain":["IgG","anti"],"range":["black","white"]},"legend":null}}},
    {"data":{"name":"bD4"},"mark":{"type":"rule","color":"black","strokeWidth":0.8},"encoding":{"x":{"field":"grp","type":"nominal","scale":{"type":"band","domain":["IgG (WT)","anti-CD25 (WT)","IgG (Tcrd⁻/⁻)","anti-CD25 (Tcrd⁻/⁻)"],"paddingInner":0.4,"paddingOuter":0.2},"bandPosition":0.5},"y":{"field":"m","type":"quantitative","scale":{"domain":[0,60],"nice":false}},"y2":{"field":"hi"}}},
    {"data":{"name":"bD4"},"mark":{"type":"tick","color":"black","thickness":0.8,"size":4},"encoding":{"x":{"field":"grp","type":"nominal","scale":{"type":"band","domain":["IgG (WT)","anti-CD25 (WT)","IgG (Tcrd⁻/⁻)","anti-CD25 (Tcrd⁻/⁻)"],"paddingInner":0.4,"paddingOuter":0.2},"bandPosition":0.5},"y":{"field":"hi","type":"quantitative","scale":{"domain":[0,60],"nice":false}}}}
   ]}
 ],"spacing":24,
 "resolve":{"scale":{"x":"independent","y":"independent","fill":"independent"},"legend":{"fill":"independent"}}},
 {"hconcat":[
  {"width":46,"height":46,"title":{"text":"E","offset":10,"dx":-2},
   "layer":[
    {"data":{"name":"bE1"},"mark":{"type":"bar","stroke":"black","strokeWidth":0.8},"encoding":{"x":{"field":"grp","type":"nominal","scale":{"type":"band","domain":["IgG (WT)","anti-CD25 (WT)","IgG (Tcrd⁻/⁻)","anti-CD25 (Tcrd⁻/⁻)"],"paddingInner":0.4,"paddingOuter":0.2},"axis":{"title":null,"ticks":false,"labelAngle":-90,"labelAlign":"right","labelBaseline":"middle","labelPadding":3,"labelFontSize":7}},"y":{"field":"m","type":"quantitative","scale":{"domain":[0,30000],"nice":false},"axis":{"values":[0,10000,20000,30000],"format":",d","title":["Foxp3⁺CD4⁺","(Number in CNS)"]}},"fill":{"field":"kind","type":"nominal","scale":{"domain":["IgG","anti"],"range":["black","white"]},"legend":null}}},
    {"data":{"name":"bE1"},"mark":{"type":"rule","color":"black","strokeWidth":0.8},"encoding":{"x":{"field":"grp","type":"nominal","scale":{"type":"band","domain":["IgG (WT)","anti-CD25 (WT)","IgG (Tcrd⁻/⁻)","anti-CD25 (Tcrd⁻/⁻)"],"paddingInner":0.4,"paddingOuter":0.2},"bandPosition":0.5},"y":{"field":"m","type":"quantitative","scale":{"domain":[0,30000],"nice":false}},"y2":{"field":"hi"}}},
    {"data":{"name":"bE1"},"mark":{"type":"tick","color":"black","thickness":0.8,"size":4},"encoding":{"x":{"field":"grp","type":"nominal","scale":{"type":"band","domain":["IgG (WT)","anti-CD25 (WT)","IgG (Tcrd⁻/⁻)","anti-CD25 (Tcrd⁻/⁻)"],"paddingInner":0.4,"paddingOuter":0.2},"bandPosition":0.5},"y":{"field":"hi","type":"quantitative","scale":{"domain":[0,30000],"nice":false}}}},
    {"data":{"name":"brE1"},"mark":{"type":"rule","color":"black","strokeWidth":0.7},"encoding":{"x":{"field":"a","type":"nominal","scale":{"type":"band","domain":["IgG (WT)","anti-CD25 (WT)","IgG (Tcrd⁻/⁻)","anti-CD25 (Tcrd⁻/⁻)"],"paddingInner":0.4,"paddingOuter":0.2},"bandPosition":0.5},"x2":{"field":"b"},"y":{"field":"lv","type":"quantitative","scale":{"domain":[0,30000],"nice":false}}}},
    {"data":{"name":"brE1"},"mark":{"type":"rule","color":"black","strokeWidth":0.7},"encoding":{"x":{"field":"a","type":"nominal","scale":{"type":"band","domain":["IgG (WT)","anti-CD25 (WT)","IgG (Tcrd⁻/⁻)","anti-CD25 (Tcrd⁻/⁻)"],"paddingInner":0.4,"paddingOuter":0.2},"bandPosition":0.5},"y":{"field":"la","type":"quantitative","scale":{"domain":[0,30000],"nice":false}},"y2":{"field":"lv"}}},
    {"data":{"name":"brE1"},"mark":{"type":"rule","color":"black","strokeWidth":0.7},"encoding":{"x":{"field":"b","type":"nominal","scale":{"type":"band","domain":["IgG (WT)","anti-CD25 (WT)","IgG (Tcrd⁻/⁻)","anti-CD25 (Tcrd⁻/⁻)"],"paddingInner":0.4,"paddingOuter":0.2},"bandPosition":0.5},"y":{"field":"lb","type":"quantitative","scale":{"domain":[0,30000],"nice":false}},"y2":{"field":"lv"}}},
    {"data":{"name":"brE1"},"mark":{"type":"text","fontSize":6.5,"align":"left","baseline":"bottom","dx":0,"dy":-2},"encoding":{"x":{"field":"a","type":"nominal","scale":{"type":"band","domain":["IgG (WT)","anti-CD25 (WT)","IgG (Tcrd⁻/⁻)","anti-CD25 (Tcrd⁻/⁻)"],"paddingInner":0.4,"paddingOuter":0.2},"bandPosition":0.5},"y":{"field":"lv","type":"quantitative","scale":{"domain":[0,30000],"nice":false}},"text":{"field":"label"}}}
   ]},
  {"width":46,"height":46,
   "layer":[
    {"data":{"name":"bE2"},"mark":{"type":"bar","stroke":"black","strokeWidth":0.8},"encoding":{"x":{"field":"grp","type":"nominal","scale":{"type":"band","domain":["IgG (WT)","anti-CD25 (WT)","IgG (Tcrd⁻/⁻)","anti-CD25 (Tcrd⁻/⁻)"],"paddingInner":0.4,"paddingOuter":0.2},"axis":{"title":null,"ticks":false,"labelAngle":-90,"labelAlign":"right","labelBaseline":"middle","labelPadding":3,"labelFontSize":7}},"y":{"field":"m","type":"quantitative","scale":{"domain":[0,45000],"nice":false},"axis":{"values":[0,15000,30000,45000],"format":",d","title":["IL-17⁺CD4⁺Foxp3⁻","(Number in CNS)"]}},"fill":{"field":"kind","type":"nominal","scale":{"domain":["IgG","anti"],"range":["black","white"]},"legend":null}}},
    {"data":{"name":"bE2"},"mark":{"type":"rule","color":"black","strokeWidth":0.8},"encoding":{"x":{"field":"grp","type":"nominal","scale":{"type":"band","domain":["IgG (WT)","anti-CD25 (WT)","IgG (Tcrd⁻/⁻)","anti-CD25 (Tcrd⁻/⁻)"],"paddingInner":0.4,"paddingOuter":0.2},"bandPosition":0.5},"y":{"field":"m","type":"quantitative","scale":{"domain":[0,45000],"nice":false}},"y2":{"field":"hi"}}},
    {"data":{"name":"bE2"},"mark":{"type":"tick","color":"black","thickness":0.8,"size":4},"encoding":{"x":{"field":"grp","type":"nominal","scale":{"type":"band","domain":["IgG (WT)","anti-CD25 (WT)","IgG (Tcrd⁻/⁻)","anti-CD25 (Tcrd⁻/⁻)"],"paddingInner":0.4,"paddingOuter":0.2},"bandPosition":0.5},"y":{"field":"hi","type":"quantitative","scale":{"domain":[0,45000],"nice":false}}}},
    {"data":{"name":"brE2"},"mark":{"type":"rule","color":"black","strokeWidth":0.7},"encoding":{"x":{"field":"a","type":"nominal","scale":{"type":"band","domain":["IgG (WT)","anti-CD25 (WT)","IgG (Tcrd⁻/⁻)","anti-CD25 (Tcrd⁻/⁻)"],"paddingInner":0.4,"paddingOuter":0.2},"bandPosition":0.5},"x2":{"field":"b"},"y":{"field":"lv","type":"quantitative","scale":{"domain":[0,45000],"nice":false}}}},
    {"data":{"name":"brE2"},"mark":{"type":"rule","color":"black","strokeWidth":0.7},"encoding":{"x":{"field":"a","type":"nominal","scale":{"type":"band","domain":["IgG (WT)","anti-CD25 (WT)","IgG (Tcrd⁻/⁻)","anti-CD25 (Tcrd⁻/⁻)"],"paddingInner":0.4,"paddingOuter":0.2},"bandPosition":0.5},"y":{"field":"la","type":"quantitative","scale":{"domain":[0,45000],"nice":false}},"y2":{"field":"lv"}}},
    {"data":{"name":"brE2"},"mark":{"type":"rule","color":"black","strokeWidth":0.7},"encoding":{"x":{"field":"b","type":"nominal","scale":{"type":"band","domain":["IgG (WT)","anti-CD25 (WT)","IgG (Tcrd⁻/⁻)","anti-CD25 (Tcrd⁻/⁻)"],"paddingInner":0.4,"paddingOuter":0.2},"bandPosition":0.5},"y":{"field":"lb","type":"quantitative","scale":{"domain":[0,45000],"nice":false}},"y2":{"field":"lv"}}},
    {"data":{"name":"brE2"},"mark":{"type":"text","fontSize":6.5,"align":"left","baseline":"bottom","dx":-3,"dy":-2},"encoding":{"x":{"field":"a","type":"nominal","scale":{"type":"band","domain":["IgG (WT)","anti-CD25 (WT)","IgG (Tcrd⁻/⁻)","anti-CD25 (Tcrd⁻/⁻)"],"paddingInner":0.4,"paddingOuter":0.2},"bandPosition":0.5},"y":{"field":"lv","type":"quantitative","scale":{"domain":[0,45000],"nice":false}},"text":{"field":"label"}}}
   ]},
  {"width":46,"height":46,
   "layer":[
    {"data":{"name":"bE3"},"mark":{"type":"bar","stroke":"black","strokeWidth":0.8},"encoding":{"x":{"field":"grp","type":"nominal","scale":{"type":"band","domain":["IgG (WT)","anti-CD25 (WT)","IgG (Tcrd⁻/⁻)","anti-CD25 (Tcrd⁻/⁻)"],"paddingInner":0.4,"paddingOuter":0.2},"axis":{"title":null,"ticks":false,"labelAngle":-90,"labelAlign":"right","labelBaseline":"middle","labelPadding":3,"labelFontSize":7}},"y":{"field":"m","type":"quantitative","scale":{"domain":[0,75000],"nice":false},"axis":{"values":[0,25000,50000,75000],"format":",d","title":["IFN-γ⁺CD4⁺Foxp3⁻","(Number in CNS)"]}},"fill":{"field":"kind","type":"nominal","scale":{"domain":["IgG","anti"],"range":["black","white"]},"legend":null}}},
    {"data":{"name":"bE3"},"mark":{"type":"rule","color":"black","strokeWidth":0.8},"encoding":{"x":{"field":"grp","type":"nominal","scale":{"type":"band","domain":["IgG (WT)","anti-CD25 (WT)","IgG (Tcrd⁻/⁻)","anti-CD25 (Tcrd⁻/⁻)"],"paddingInner":0.4,"paddingOuter":0.2},"bandPosition":0.5},"y":{"field":"m","type":"quantitative","scale":{"domain":[0,75000],"nice":false}},"y2":{"field":"hi"}}},
    {"data":{"name":"bE3"},"mark":{"type":"tick","color":"black","thickness":0.8,"size":4},"encoding":{"x":{"field":"grp","type":"nominal","scale":{"type":"band","domain":["IgG (WT)","anti-CD25 (WT)","IgG (Tcrd⁻/⁻)","anti-CD25 (Tcrd⁻/⁻)"],"paddingInner":0.4,"paddingOuter":0.2},"bandPosition":0.5},"y":{"field":"hi","type":"quantitative","scale":{"domain":[0,75000],"nice":false}}}},
    {"data":{"name":"brE3"},"mark":{"type":"rule","color":"black","strokeWidth":0.7},"encoding":{"x":{"field":"a","type":"nominal","scale":{"type":"band","domain":["IgG (WT)","anti-CD25 (WT)","IgG (Tcrd⁻/⁻)","anti-CD25 (Tcrd⁻/⁻)"],"paddingInner":0.4,"paddingOuter":0.2},"bandPosition":0.5},"x2":{"field":"b"},"y":{"field":"lv","type":"quantitative","scale":{"domain":[0,75000],"nice":false}}}},
    {"data":{"name":"brE3"},"mark":{"type":"rule","color":"black","strokeWidth":0.7},"encoding":{"x":{"field":"a","type":"nominal","scale":{"type":"band","domain":["IgG (WT)","anti-CD25 (WT)","IgG (Tcrd⁻/⁻)","anti-CD25 (Tcrd⁻/⁻)"],"paddingInner":0.4,"paddingOuter":0.2},"bandPosition":0.5},"y":{"field":"la","type":"quantitative","scale":{"domain":[0,75000],"nice":false}},"y2":{"field":"lv"}}},
    {"data":{"name":"brE3"},"mark":{"type":"rule","color":"black","strokeWidth":0.7},"encoding":{"x":{"field":"b","type":"nominal","scale":{"type":"band","domain":["IgG (WT)","anti-CD25 (WT)","IgG (Tcrd⁻/⁻)","anti-CD25 (Tcrd⁻/⁻)"],"paddingInner":0.4,"paddingOuter":0.2},"bandPosition":0.5},"y":{"field":"lb","type":"quantitative","scale":{"domain":[0,75000],"nice":false}},"y2":{"field":"lv"}}},
    {"data":{"name":"brE3"},"mark":{"type":"text","fontSize":6.5,"align":"left","baseline":"bottom","dx":-3,"dy":-2},"encoding":{"x":{"field":"a","type":"nominal","scale":{"type":"band","domain":["IgG (WT)","anti-CD25 (WT)","IgG (Tcrd⁻/⁻)","anti-CD25 (Tcrd⁻/⁻)"],"paddingInner":0.4,"paddingOuter":0.2},"bandPosition":0.5},"y":{"field":"lv","type":"quantitative","scale":{"domain":[0,75000],"nice":false}},"text":{"field":"label"}}}
   ]},
  {"width":46,"height":46,
   "layer":[
    {"data":{"name":"bE4"},"mark":{"type":"bar","stroke":"black","strokeWidth":0.8},"encoding":{"x":{"field":"grp","type":"nominal","scale":{"type":"band","domain":["IgG (WT)","anti-CD25 (WT)","IgG (Tcrd⁻/⁻)","anti-CD25 (Tcrd⁻/⁻)"],"paddingInner":0.4,"paddingOuter":0.2},"axis":{"title":null,"ticks":false,"labelAngle":-90,"labelAlign":"right","labelBaseline":"middle","labelPadding":3,"labelFontSize":7}},"y":{"field":"m","type":"quantitative","scale":{"domain":[0,60000],"nice":false},"axis":{"values":[0,20000,40000,60000],"format":",d","title":["TNF⁺CD4⁺Foxp3⁻","(Number in CNS)"]}},"fill":{"field":"kind","type":"nominal","scale":{"domain":["IgG","anti"],"range":["black","white"]},"legend":null}}},
    {"data":{"name":"bE4"},"mark":{"type":"rule","color":"black","strokeWidth":0.8},"encoding":{"x":{"field":"grp","type":"nominal","scale":{"type":"band","domain":["IgG (WT)","anti-CD25 (WT)","IgG (Tcrd⁻/⁻)","anti-CD25 (Tcrd⁻/⁻)"],"paddingInner":0.4,"paddingOuter":0.2},"bandPosition":0.5},"y":{"field":"m","type":"quantitative","scale":{"domain":[0,60000],"nice":false}},"y2":{"field":"hi"}}},
    {"data":{"name":"bE4"},"mark":{"type":"tick","color":"black","thickness":0.8,"size":4},"encoding":{"x":{"field":"grp","type":"nominal","scale":{"type":"band","domain":["IgG (WT)","anti-CD25 (WT)","IgG (Tcrd⁻/⁻)","anti-CD25 (Tcrd⁻/⁻)"],"paddingInner":0.4,"paddingOuter":0.2},"bandPosition":0.5},"y":{"field":"hi","type":"quantitative","scale":{"domain":[0,60000],"nice":false}}}},
    {"data":{"name":"brE4"},"mark":{"type":"rule","color":"black","strokeWidth":0.7},"encoding":{"x":{"field":"a","type":"nominal","scale":{"type":"band","domain":["IgG (WT)","anti-CD25 (WT)","IgG (Tcrd⁻/⁻)","anti-CD25 (Tcrd⁻/⁻)"],"paddingInner":0.4,"paddingOuter":0.2},"bandPosition":0.5},"x2":{"field":"b"},"y":{"field":"lv","type":"quantitative","scale":{"domain":[0,60000],"nice":false}}}},
    {"data":{"name":"brE4"},"mark":{"type":"rule","color":"black","strokeWidth":0.7},"encoding":{"x":{"field":"a","type":"nominal","scale":{"type":"band","domain":["IgG (WT)","anti-CD25 (WT)","IgG (Tcrd⁻/⁻)","anti-CD25 (Tcrd⁻/⁻)"],"paddingInner":0.4,"paddingOuter":0.2},"bandPosition":0.5},"y":{"field":"la","type":"quantitative","scale":{"domain":[0,60000],"nice":false}},"y2":{"field":"lv"}}},
    {"data":{"name":"brE4"},"mark":{"type":"rule","color":"black","strokeWidth":0.7},"encoding":{"x":{"field":"b","type":"nominal","scale":{"type":"band","domain":["IgG (WT)","anti-CD25 (WT)","IgG (Tcrd⁻/⁻)","anti-CD25 (Tcrd⁻/⁻)"],"paddingInner":0.4,"paddingOuter":0.2},"bandPosition":0.5},"y":{"field":"lb","type":"quantitative","scale":{"domain":[0,60000],"nice":false}},"y2":{"field":"lv"}}},
    {"data":{"name":"brE4"},"mark":{"type":"text","fontSize":6.5,"align":"left","baseline":"bottom","dx":-3,"dy":-2},"encoding":{"x":{"field":"a","type":"nominal","scale":{"type":"band","domain":["IgG (WT)","anti-CD25 (WT)","IgG (Tcrd⁻/⁻)","anti-CD25 (Tcrd⁻/⁻)"],"paddingInner":0.4,"paddingOuter":0.2},"bandPosition":0.5},"y":{"field":"lv","type":"quantitative","scale":{"domain":[0,60000],"nice":false}},"text":{"field":"label"}}}
   ]}
 ],"spacing":11,
 "resolve":{"scale":{"x":"independent","y":"independent","fill":"independent"},"legend":{"fill":"independent"}}}
]
}
